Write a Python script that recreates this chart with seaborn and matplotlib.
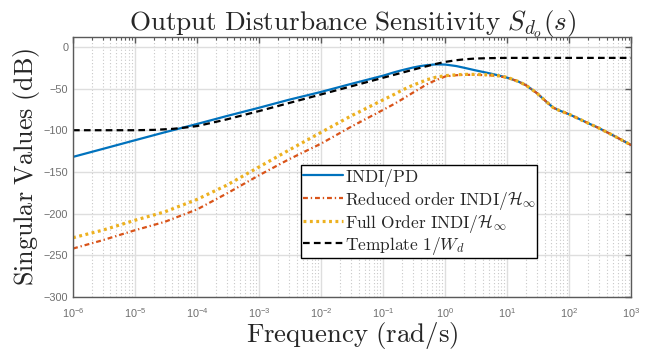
import numpy as np
import pandas as pd
import matplotlib
matplotlib.use("Agg")
import matplotlib.pyplot as plt
import matplotlib.ticker as mticker
import seaborn as sns

# ---------------- data ----------------
freq = [1e-6, 3e-6, 1e-5, 3e-5, 1e-4, 3e-4, 1e-3, 3e-3, 1e-2, 3e-2, 0.1, 0.15,
        0.2, 0.3, 0.4, 0.5, 0.7, 1, 1.5, 2, 3, 5, 7, 10, 15, 20, 30, 40, 55,
        70, 100, 200, 300, 500, 1000]

indi_pd = [-132, -122.5, -112, -102.5, -92.5, -83, -73, -63.5, -54, -44.5,
           -34.5, -30.5, -28, -24.8, -23, -22, -21, -21.2, -23, -25, -28,
           -31.5, -34, -37, -41.5, -46, -55.5, -64, -73, -76.5, -81, -91.5,
           -97.5, -106, -118]

reduced = [-242, -232, -220, -210, -195, -176, -154, -135, -116, -96, -75.5,
           -68.5, -63, -55, -49.5, -45, -40, -35.5, -34, -33.5, -33.5, -34,
           -35, -37, -41.5, -46, -55.5, -64, -73, -76.5, -81, -91.5, -97.5,
           -106, -118]

full = [-229, -220, -208, -198, -183, -166, -144, -124, -102.5, -83, -63.5,
        -57, -52, -46, -42.5, -39.5, -36.5, -34.5, -33.5, -33, -33, -33.5,
        -34.5, -36.5, -41.5, -46, -55.5, -64, -73, -76.5, -81, -91.5, -97.5,
        -106, -118]

tmpl_freq = [1e-6, 1e-5, 2e-5, 4e-5, 7e-5, 1e-4, 2e-4, 3e-4, 1e-3, 1e-2, 0.1,
             0.2, 0.4, 0.7, 1, 1.5, 2, 3, 5, 10, 1000]
tmpl = [-100, -100, -99.6, -98.4, -96.5, -95, -90, -87, -77, -57, -37,
        -31, -25, -20.5, -18, -16, -15, -14, -13.5, -13.2, -13.2]

labels = [r"$\mathrm{INDI/PD}$",
          r"$\mathrm{Reduced\ order\ INDI}/\mathcal{H}_\infty$",
          r"$\mathrm{Full\ Order\ INDI}/\mathcal{H}_\infty$",
          r"$\mathrm{Template}\ 1/W_d$"]

# ---------------- style ----------------
sns.set_style("white")
plt.rcParams["font.family"] = ["Liberation Sans", "DejaVu Sans"]
plt.rcParams["mathtext.fontset"] = "cm"

fig = plt.figure(figsize=(6.58, 3.53), dpi=100)
ax = fig.add_axes([0.111, 0.159, 0.8486, 0.7365])

c_blue, c_orange, c_yellow = "#0072BD", "#D95319", "#EDB120"

df_pd = pd.DataFrame({"f": freq, "db": indi_pd})
df_red = pd.DataFrame({"f": freq, "db": reduced})
df_full = pd.DataFrame({"f": freq, "db": full})
df_t = pd.DataFrame({"f": tmpl_freq, "db": tmpl})

sns.lineplot(data=df_pd, x="f", y="db", ax=ax, color=c_blue, lw=1.6,
             label=labels[0])
sns.lineplot(data=df_red, x="f", y="db", ax=ax, color=c_orange, lw=1.6,
             linestyle=(0, (2.2, 1.3, 0.6, 1.3)), label=labels[1])
sns.lineplot(data=df_full, x="f", y="db", ax=ax, color=c_yellow, lw=2.3,
             linestyle=(0, (0.9, 1.1)), label=labels[2])
sns.lineplot(data=df_t, x="f", y="db", ax=ax, color="black", lw=1.6,
             linestyle=(0, (3.0, 1.9)), label=labels[3])

ax.set_xscale("log")
ax.set_xlim(1e-6, 1e3)
ax.set_ylim(-300, 12)
ax.set_yticks(np.arange(-300, 1, 50))
ax.xaxis.set_major_locator(mticker.LogLocator(base=10, numticks=20))
ax.xaxis.set_minor_locator(mticker.LogLocator(base=10, subs=np.arange(2, 10), numticks=200))
ax.xaxis.set_minor_formatter(mticker.NullFormatter())

# grid
ax.grid(True, which="major", color="#dedede", lw=1.0, ls="-")
ax.grid(True, which="minor", axis="x", color="#c8c8c8", lw=0.8, ls=(0, (1, 2)))
ax.set_axisbelow(True)

# spines / ticks like MATLAB
for s in ax.spines.values():
    s.set_visible(True)
    s.set_color("#5a5a5a")
    s.set_linewidth(1.0)
ax.tick_params(which="both", direction="in", top=True, right=True,
               colors="#5a5a5a", labelcolor="#6e6e6e", labelsize=7.8)
ax.tick_params(which="major", length=4, width=1.0)
ax.tick_params(which="minor", length=2.5, width=0.8)
ax.tick_params(axis="x", pad=7)

ax.set_xlabel(r"$\mathrm{Frequency\ (rad/s)}$", fontsize=19.3, labelpad=0)
ax.set_ylabel(r"$\mathrm{Singular\ Values\ (dB)}$", fontsize=18.8, labelpad=1)
ax.set_title(r"$\mathrm{Output\ Disturbance\ Sensitivity}\ S_{d_o}(s)$",
             fontsize=19.5, pad=5)

leg = ax.legend(loc="upper left", bbox_to_anchor=(0.408, 0.508),
                borderaxespad=0, fontsize=12.5, handlelength=2.3,
                handletextpad=0.12, labelspacing=0.0, borderpad=0.1,
                fancybox=False, framealpha=1, edgecolor="black")
leg.get_frame().set_linewidth(1.0)

fig.savefig("out.png", dpi=100)
